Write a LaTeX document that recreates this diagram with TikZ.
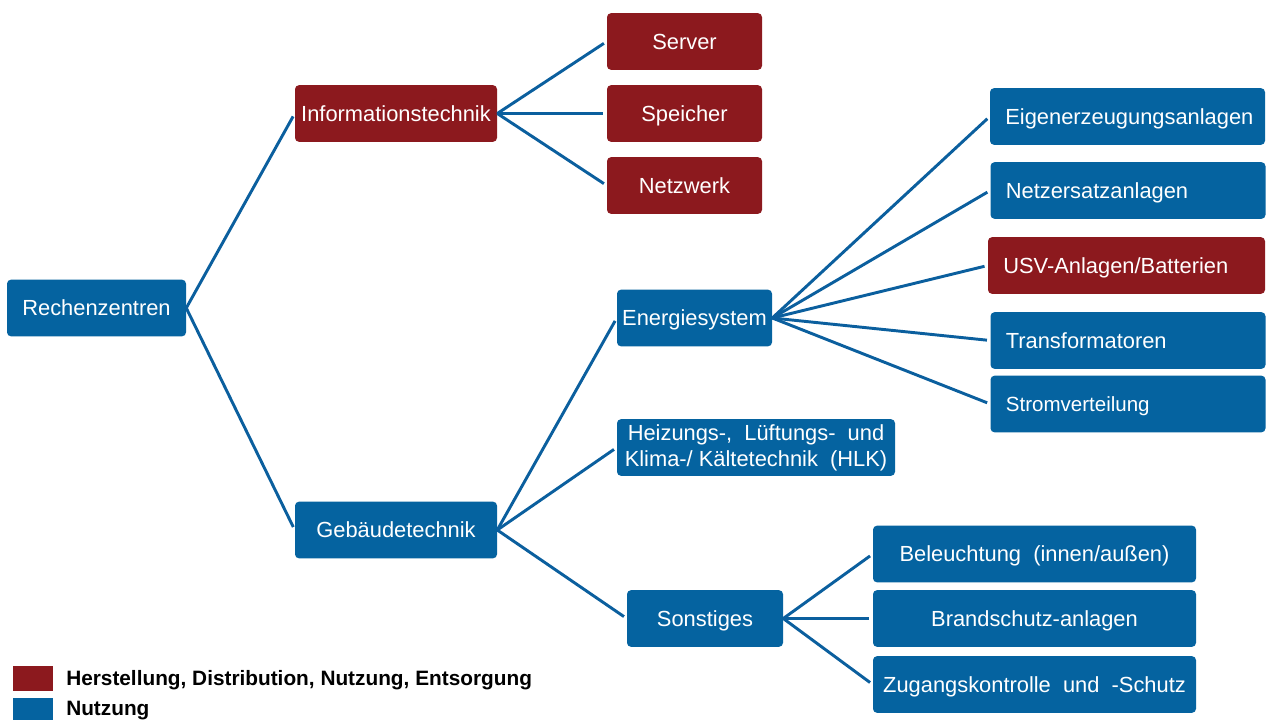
\documentclass[tikz,border=0pt]{standalone}
\usepackage{fontspec}
\setmainfont{Liberation Sans}
\definecolor{rzred}{HTML}{8C191E}
\definecolor{rzblue}{HTML}{0563A0}
\definecolor{linkblue}{HTML}{0B5F9E}
\begin{document}
\begin{tikzpicture}[x=0.75pt,y=-0.75pt,
  box/.style={rounded corners=3pt, text=white, inner sep=0pt,
    font=\fontsize{16.4}{19.5}\selectfont, align=center,
    minimum height=42.5pt, text height=11.7pt, text depth=0pt},
  bluebox/.style={box, fill=rzblue},
  redbox/.style={box, fill=rzred},
  wd/.style={minimum width=#1*0.75pt},
  leftbox/.style={wd=#1, inner xsep=11.5pt, text width=#1*0.75pt-23pt, align=left},
  link/.style={draw=linkblue, line width=2.2pt, shorten >=2.5pt},
  legsq/.style={minimum width=30pt, minimum height=19pt, inner sep=0pt},
  legtext/.style={anchor=west, inner sep=0pt, text height=11.2pt, text depth=0pt,
    font=\fontsize{15.6}{18}\selectfont\bfseries}
]
\useasboundingbox (0,0) rectangle (1266,720);

% root
\node[bluebox, wd=179] (rz) at (96.5,308) {Rechenzentren};

% second level
\node[redbox, wd=202] (it) at (396,113.5) {Informationstechnik};
\node[bluebox, wd=202] (gt) at (396,530) {Gebäudetechnik};

% information technology
\node[redbox, wd=155] (server) at (684.5,41.5) {Server};
\node[redbox, wd=155] (speicher) at (684.5,113.5) {Speicher};
\node[redbox, wd=155] (netz) at (684.5,185.5) {Netzwerk};

% building services
\node[bluebox, wd=155] (energie) at (694.5,318) {Energiesystem};
\node[bluebox, wd=278, text height=, text depth=] (hlk) at (756,447.5)
  {Heizungs-,\ \ Lüftungs-\ \ und\\Klima-/ Kältetechnik\ \ (HLK)};
\node[bluebox, wd=156] (sonst) at (705,618.5) {Sonstiges};

% energy system
\node[bluebox, leftbox=275] (eigen) at (1127.5,116.5) {Eigenerzeugungsanlagen};
\node[bluebox, leftbox=275] (nea) at (1128,190.5) {Netzersatzanlagen};
\node[redbox, leftbox=277] (usv) at (1126.5,265.5) {USV-Anlagen/Batterien};
\node[bluebox, leftbox=275] (trafo) at (1128,340.5) {Transformatoren};
\node[bluebox, leftbox=275, font=\fontsize{15.4}{18}\selectfont] (strom) at (1128,404) {Stromverteilung};

% miscellaneous
\node[bluebox, wd=323] (bel) at (1034.5,554) {Beleuchtung\ \ (innen/außen)};
\node[bluebox, wd=323] (brand) at (1034.5,618.5) {Brandschutz-anlagen};
\node[bluebox, wd=323] (zug) at (1034.5,684.5) {Zugangskontrolle\ \ und\ \ -Schutz};

% connectors
\draw[link] (rz.east) -- (it.west);
\draw[link] (rz.east) -- (gt.west);
\foreach \t in {server,speicher,netz} \draw[link] (it.east) -- (\t.west);
\foreach \t in {energie,hlk,sonst} \draw[link] (gt.east) -- (\t.west);
\foreach \t in {eigen,nea,usv,trafo,strom} \draw[link] (energie.east) -- (\t.west);
\foreach \t in {bel,brand,zug} \draw[link] (sonst.east) -- (\t.west);

% legend
\node[legsq, fill=rzred] (lr) at (32.5,678.5) {};
\node[legsq, fill=rzblue] (lb) at (32.5,710.5) {};
\node[legtext] (lrt) at (66,678.5) {Herstellung, Distribution, Nutzung, Entsorgung};
\node[legtext] (lbt) at (66,708) {Nutzung};
\end{tikzpicture}
\end{document}
